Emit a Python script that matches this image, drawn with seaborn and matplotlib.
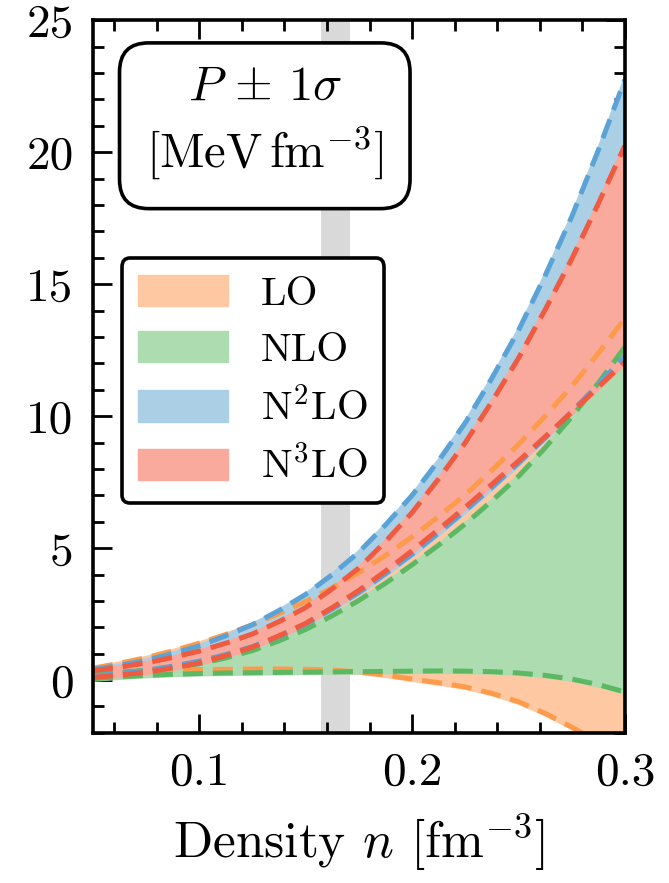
import numpy as np
import pandas as pd
import matplotlib
matplotlib.use("Agg")
import matplotlib.pyplot as plt
import seaborn as sns
from matplotlib.patches import Patch
from matplotlib.ticker import MultipleLocator

# ---------------- data ----------------
density = [0.05, 0.0625, 0.075, 0.0875, 0.10, 0.1125, 0.125, 0.1375, 0.15, 0.1625,
           0.175, 0.1875, 0.20, 0.2125, 0.225, 0.2375, 0.25, 0.2625, 0.275, 0.2875, 0.30]

lo_lower   = [0.20, 0.29, 0.35, 0.38, 0.40, 0.41, 0.42, 0.42, 0.41, 0.38,
              0.31, 0.19, 0.04, -0.10, -0.26, -0.50, -0.82, -1.26, -1.78, -2.35, -3.00]
lo_upper   = [0.45, 0.64, 0.85, 1.11, 1.40, 1.73, 2.10, 2.52, 2.98, 3.50,
              4.08, 4.72, 5.43, 6.20, 7.03, 7.95, 8.93, 10.00, 11.13, 12.38, 13.70]
nlo_lower  = [0.05, 0.12, 0.18, 0.22, 0.25, 0.27, 0.28, 0.29, 0.30, 0.31,
              0.32, 0.33, 0.34, 0.35, 0.34, 0.32, 0.27, 0.18, 0.04, -0.17, -0.45]
nlo_upper  = [0.25, 0.30, 0.37, 0.48, 0.62, 0.84, 1.12, 1.49, 1.92, 2.44,
              3.02, 3.67, 4.37, 5.12, 5.92, 6.79, 7.72, 8.80, 9.97, 11.25, 12.62]
n2lo_lower = [0.15, 0.25, 0.37, 0.53, 0.72, 0.97, 1.27, 1.66, 2.12, 2.70,
              3.32, 4.03, 4.77, 5.58, 6.42, 7.30, 8.22, 9.18, 10.17, 11.20, 12.27]
n2lo_upper = [0.40, 0.56, 0.75, 1.01, 1.30, 1.68, 2.10, 2.64, 3.25, 4.00,
              4.85, 5.88, 7.00, 8.32, 9.75, 11.44, 13.25, 15.32, 17.55, 20.07, 22.75]
n3lo_lower = [0.10, 0.19, 0.30, 0.46, 0.65, 0.93, 1.25, 1.68, 2.15, 2.75,
              3.40, 4.13, 4.90, 5.71, 6.55, 7.42, 8.30, 9.22, 10.15, 11.10, 12.05]
n3lo_upper = [0.35, 0.49, 0.65, 0.86, 1.10, 1.40, 1.75, 2.22, 2.75, 3.46,
              4.25, 5.25, 6.35, 7.63, 9.00, 10.55, 12.20, 14.03, 15.95, 18.05, 20.25]

orders = ["LO", "NLO", "N$^2$LO", "N$^3$LO"]
saturation = [0.157, 0.171]
x_ticks = [0.1, 0.2, 0.3]
y_ticks = [0, 5, 10, 15, 20, 25]

# ---------------- style ----------------
sns.set_theme(style="ticks")
plt.rcParams.update({
    "font.family": "serif",
    "font.serif": ["cmr10"],
    "mathtext.fontset": "cm",
    "axes.formatter.use_mathtext": True,
    "axes.unicode_minus": False,
    "lines.dashed_pattern": [4.0, 2.0],
    "text.color": "black",
    "axes.labelcolor": "black",
    "xtick.color": "black",
    "ytick.color": "black",
})

fill_colors = ["#fdc8a2", "#aedcb1", "#abd0e6", "#f9aa9d"]
line_colors = ["#fd9b4b", "#5cb862", "#5ba3d6", "#ef5a40"]
lowers = [lo_lower, nlo_lower, n2lo_lower, n3lo_lower]
uppers = [lo_upper, nlo_upper, n2lo_upper, n3lo_upper]

fig = plt.figure(figsize=(6.69, 8.83), dpi=100)
ax = fig.add_axes([0.139, 0.170, 0.795, 0.807])

ax.axvspan(saturation[0], saturation[1], color="#d9d9d9", lw=0, zorder=0)

for lo, up, fc in zip(lowers, uppers, fill_colors):
    ax.fill_between(density, lo, up, facecolor=fc, edgecolor=fc, lw=3.6, zorder=1)

for lo, up, lc in zip(lowers, uppers, line_colors):
    for vals in (up, lo):
        sns.lineplot(x=density, y=vals, ax=ax, color=lc, linestyle="--",
                     lw=3.6, legend=False, zorder=2)

ax.set_xlim(0.05, 0.30)
ax.set_ylim(-2, 25)
ax.xaxis.set_major_locator(MultipleLocator(0.1))
ax.xaxis.set_minor_locator(MultipleLocator(0.02))
ax.yaxis.set_major_locator(MultipleLocator(5))
ax.yaxis.set_minor_locator(MultipleLocator(1))
ax.set_xticks(x_ticks)
ax.set_xticklabels([f"{t:.1f}" for t in x_ticks])
ax.set_yticks(y_ticks)
ax.set_yticklabels([str(t) for t in y_ticks])

ax.tick_params(which="both", direction="in", top=True, right=True,
               width=2.0, labelsize=34, pad=14, colors="black")
ax.tick_params(which="major", length=14)
ax.tick_params(which="minor", length=8)
for s in ax.spines.values():
    s.set_linewidth(2.6)
    s.set_color("black")

ax.set_xlabel("Density $n$ [fm$^{-3}$]", fontsize=37, labelpad=13)

ax.text(0.323, 0.855, "$P\\,\\pm\\,1\\sigma$\n$[\\mathrm{MeV\\,fm}^{-3}]$",
        transform=ax.transAxes, ha="center", va="center", fontsize=35,
        linespacing=1.35, zorder=5,
        bbox=dict(boxstyle="round,pad=0.55,rounding_size=0.6", fc="white",
                  ec="black", lw=2.6))

handles = [Patch(facecolor=fc, edgecolor=fc) for fc in fill_colors]
leg = ax.legend(handles, orders, loc="upper left", bbox_to_anchor=(0.054, 0.666),
                borderaxespad=0, fontsize=29.5, handlelength=2.2, handleheight=0.8,
                handletextpad=0.8, labelspacing=0.45, borderpad=0.4,
                frameon=True, fancybox=True, framealpha=1, edgecolor="black")
leg.get_frame().set_linewidth(2.6)
leg.set_zorder(6)

fig.savefig("out.png", dpi=100)
